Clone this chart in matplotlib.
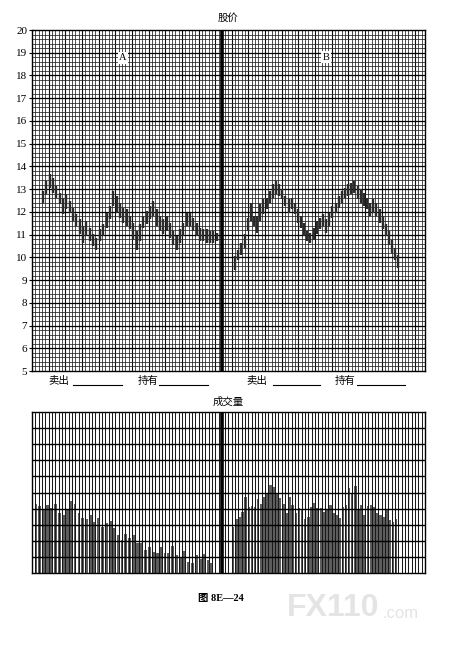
import numpy as np
import matplotlib
matplotlib.use('Agg')
import matplotlib.pyplot as plt

plt.rcParams['font.family'] = ['Liberation Serif', 'Noto Sans CJK SC', 'DejaVu Sans']

# price bars, panel A (high / low)
a_high = [12.92, 13.37, 13.66, 13.51, 13.14, 12.85, 12.63, 12.78, 12.48, 12.19,
          11.89, 11.67, 11.37, 11.60, 11.30, 11.01, 10.86, 11.23, 11.45, 11.96,
          12.26, 12.92, 12.70, 12.41, 12.19, 12.11, 11.82, 11.52, 11.15, 11.45,
          11.82, 12.04, 12.26, 12.48, 12.11, 11.82, 11.67, 11.82, 11.52, 11.15,
          10.93, 11.23, 11.52, 11.96, 11.96, 11.74, 11.52, 11.30, 11.23, 11.23,
          11.15, 11.15, 11.08]
a_low = [12.41, 12.78, 13.07, 12.85, 12.63, 12.33, 11.89, 12.11, 11.96, 11.60,
         11.37, 11.01, 10.64, 10.93, 10.71, 10.49, 10.34, 10.71, 10.93, 11.30,
         11.67, 12.26, 11.96, 11.74, 11.52, 11.37, 11.23, 10.78, 10.34, 10.71,
         11.30, 11.45, 11.67, 11.82, 11.37, 11.15, 11.01, 11.15, 10.86, 10.56,
         10.34, 10.64, 10.93, 11.37, 11.37, 11.15, 10.93, 10.71, 10.71, 10.64,
         10.64, 10.64, 10.71]

# price bars, panel B (high / low)
b_high = [10.05, 10.34, 10.64, 11.01, 11.74, 12.41, 11.82, 11.82, 12.33, 12.55,
          12.63, 12.92, 13.22, 13.37, 13.22, 13.00, 12.70, 12.55, 12.63, 12.41,
          12.11, 11.82, 11.52, 11.15, 11.08, 11.30, 11.60, 11.74, 11.89, 11.67,
          11.96, 12.26, 12.41, 12.70, 12.92, 13.07, 13.22, 13.29, 13.37, 13.14,
          13.00, 12.85, 12.63, 12.41, 12.55, 12.41, 12.11, 11.82, 11.45, 11.15,
          10.78, 10.42, 10.12]
b_low = [9.46, 9.90, 10.12, 10.42, 11.15, 11.60, 11.37, 11.08, 11.60, 11.89,
         12.11, 12.41, 12.63, 12.78, 12.70, 12.55, 12.26, 11.96, 12.11, 11.89,
         11.52, 11.30, 10.93, 10.71, 10.64, 10.78, 11.01, 11.23, 11.37, 11.08,
         11.37, 11.74, 11.96, 12.19, 12.41, 12.63, 12.70, 12.78, 12.85, 12.55,
         12.41, 12.26, 12.11, 11.82, 11.96, 11.82, 11.52, 11.23, 10.93, 10.56,
         10.19, 9.90, 9.53]

# volume, panels A and B
a_vol = [4.29, 4.16, 3.9, 4.22, 4.02, 4.26, 3.7, 3.6, 3.91, 4.49, 4.29, 3.7,
         3.4, 3.33, 3.6, 3.19, 3.4, 2.88, 3.08, 3.25, 2.77, 2.36, 2.05, 2.42,
         2.15, 2.34, 1.84, 1.84, 1.43, 1.64, 1.33, 1.22, 1.64, 1.22, 1.22, 1.7,
         1.12, 1.01, 1.39, 0.7, 0.6, 1.12, 0.87, 1.16, 0.81, 0.64]
b_vol = [2.88, 3.33, 3.5, 3.81, 4.74, 4.12, 4.16, 4.12, 4.58, 4.29, 4.7, 4.95,
         5.47, 5.36, 4.95, 4.64, 4.29, 3.71, 4.7, 4.22, 3.71, 4.02, 3.95, 3.33,
         3.5, 4.12, 4.37, 4.06, 4.02, 3.81, 3.91, 4.22, 3.71, 3.6, 3.44, 4.12,
         4.22, 5.26, 4.95, 5.4, 3.89, 4.22, 3.6, 4.16, 4.22, 4.12, 3.71, 3.6,
         3.5, 3.91, 3.29, 3.19, 3.33]

price_ticks = list(range(5, 21))

W, H = 456, 647
fig = plt.figure(figsize=(W / 100, H / 100), dpi=100)

XMAX = 118
DIV = 57

def fx(px):
    return px / W

def fy(py):
    return 1 - py / H

# ---- price chart ----
ax = fig.add_axes([fx(32), fy(371), fx(425) - fx(32), fy(30) - fy(371)])
ax.set_xlim(0, XMAX)
ax.set_ylim(5, 20)
cols = np.arange(1, XMAX)
ax.vlines(cols, 5, 20, color='#222222', lw=0.55, zorder=1)
ax.vlines(cols[cols % 5 == 0], 5, 20, color='#111111', lw=0.8, zorder=1)
rows = np.arange(5.2, 20, 0.2)
ax.hlines(rows, 0, XMAX, color='#222222', lw=0.55, zorder=1)
ax.hlines(price_ticks[1:-1], 0, XMAX, color='#000000', lw=0.9, zorder=1)

xa = np.linspace(3.3, 55.5, len(a_high))
xb = np.linspace(61.0, 110.0, len(b_high))
ax.vlines(xa, a_low, a_high, color='#2a2a2a', lw=1.7, zorder=3)
ax.vlines(xb, b_low, b_high, color='#2a2a2a', lw=1.7, zorder=3)
ax.axvline(DIV, color='black', lw=2.6, zorder=4)

ax.set_xticks([])
ax.set_yticks(price_ticks)
ax.set_yticklabels([str(t) for t in price_ticks], fontsize=8)
ax.tick_params(axis='y', length=2, width=0.8, pad=1.5)
for s in ax.spines.values():
    s.set_linewidth(1.0)

ax.text(27.3, 18.77, 'A', ha='center', va='center', fontsize=7.5, zorder=5,
        bbox=dict(facecolor='white', edgecolor='none', pad=1.2))
ax.text(88.3, 18.8, 'B', ha='center', va='center', fontsize=7.5, zorder=5,
        bbox=dict(facecolor='white', edgecolor='none', pad=1.2))

fig.text(fx(228), fy(18), '股价', ha='center', va='center', fontsize=7.5,
         family=['Noto Sans CJK SC'])

# sell / hold labels under the price chart
for x_sell, l1, x_hold, l2 in [(59, (73, 122), 148, (159, 208)),
                               (257, (273, 320), 345, (357, 405))]:
    fig.text(fx(x_sell), fy(381), '卖出', ha='center', va='center', fontsize=7.5,
             family=['Noto Sans CJK SC'])
    fig.text(fx(x_hold), fy(381), '持有', ha='center', va='center', fontsize=7.5,
             family=['Noto Sans CJK SC'])
    for a, b in [l1, l2]:
        fig.add_artist(plt.Line2D([fx(a), fx(b)], [fy(385), fy(385)],
                                  color='black', lw=0.8))

# ---- volume chart ----
av = fig.add_axes([fx(32), fy(573), fx(425) - fx(32), fy(412) - fy(573)])
av.set_xlim(0, XMAX)
av.set_ylim(0, 10)
av.vlines(cols, 0, 10, color='#1a1a1a', lw=0.75, zorder=3)
av.hlines(np.arange(1, 10), 0, XMAX, color='black', lw=1.0, zorder=3)
xva = np.linspace(1.2, 54.0, len(a_vol))
xvb = np.linspace(60.4, 109.3, len(b_vol))
av.bar(xva, a_vol, width=0.85, color='#5e5e5e', zorder=2)
av.bar(xvb, b_vol, width=0.75, color='#5e5e5e', zorder=2)
av.axvline(DIV, color='black', lw=2.6, zorder=4)
av.set_xticks([])
av.set_yticks([])
for s in av.spines.values():
    s.set_linewidth(1.0)

fig.text(fx(228), fy(402), '成交量', ha='center', va='center', fontsize=7.5,
         family=['Noto Sans CJK SC'])

fig.text(fx(221), fy(598), '图 8E—24', ha='center', va='center', fontsize=7.5,
         fontweight='bold', family=['Liberation Serif', 'Noto Sans CJK SC'])

# watermark
fig.text(fx(287), fy(608), 'FX110', ha='left', va='center', fontsize=23,
         fontweight='bold', color='#e4e4e4', family=['Liberation Sans'])
fig.text(fx(382), fy(613), '.com', ha='left', va='center', fontsize=12,
         color='#e4e4e4', family=['Liberation Sans'])

fig.savefig('out.png', dpi=100)
